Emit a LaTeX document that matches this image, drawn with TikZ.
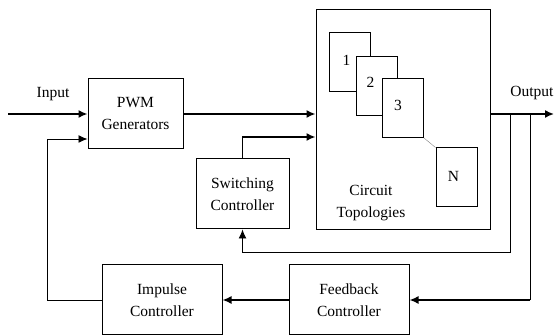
\documentclass[tikz,border=0pt]{standalone}
\usepackage{fontspec}
\setmainfont{Liberation Serif}
\usetikzlibrary{arrows.meta,positioning}

\begin{document}
\begin{tikzpicture}[x=1pt,y=-1pt,on grid,>={Latex[length=9pt,width=8pt]},
    font=\fontsize{15.5}{22}\selectfont]
  \tikzstyle{block}=[rectangle,draw,line width=1pt,fill=white,
                     minimum width=95pt,minimum height=70pt,align=center,inner sep=0pt]
  \tikzstyle{subbox}=[rectangle,draw,line width=1pt,fill=white,
                      minimum width=41pt,minimum height=59pt]
  \tikzstyle{signal}=[line width=1.6pt]
  \tikzstyle{loopline}=[line width=0.9pt]

  \useasboundingbox (0,0) rectangle (555,336);

  \node[block] (pwm) at (135.5,114) {PWM\\Generators};
  \node[block,minimum width=174pt,minimum height=220pt] (circuit) at (403,120) {};
  \node[block,minimum width=93pt] (switch) at (242.5,194) {Switching\\Controller};
  \node[block,minimum width=120pt] (impulse) at (162,300) {Impulse\\Controller};
  \node[block,minimum width=120pt] (feedback) [right=187pt of impulse] {Feedback\\Controller};

  % topologies inside the big box
  \node[subbox] (b1) at (349.5,62.5) {};
  \node[subbox] (b2) [below right=23.5pt and 27pt of b1] {};
  \node[subbox] (b3) [below right=22pt and 26.5pt of b2] {};
  \node[subbox] (bN) [below right=69.5pt and 53.5pt of b3] {};
  \draw[gray,thin] (b3.south east) -- (bN.north west);
  \node (n1) [below=19pt of b1.north,xshift=-3pt] {1};
  \node (n2) [below=18pt of b2.north,xshift=-6pt] {2};
  \node (n3) [below=19pt of b3.north,xshift=-5pt] {3};
  \node (nN) [below=20pt of bN.north,xshift=-3pt] {N};
  \node[align=center] (ctext) at (371,203) {Circuit\\Topologies};

  \coordinate (in) at (8,114);
  \coordinate (out) at (554,114);
  \coordinate (tap1) at (510,114);
  \coordinate (tap2) at (530,114);
  \node (inlabel) at (53,94) {Input};
  \node (outlabel) at (532,93) {Output};

  \draw[signal,->] (in) -- (pwm.west);
  \draw[signal,->] (pwm.east) -- (pwm.east -| circuit.west);
  \draw[signal,->] (circuit.east |- out) -- (out);
  \draw[signal,->] (switch.north) |- ([yshift=-17pt]circuit.west);
  \draw[loopline,->] (tap1) -- ++(0,138) -| (switch.south);
  \draw[loopline] (tap2) -- (tap2 |- feedback.east);
  \draw[signal,->] (tap2 |- feedback.east) -- (feedback.east);
  \draw[signal,->] (feedback.west) -- (impulse.east);
  \draw[loopline,->] (impulse.west) -- ++(-54,0) |- ([yshift=-25pt]pwm.west);
\end{tikzpicture}
\end{document}
